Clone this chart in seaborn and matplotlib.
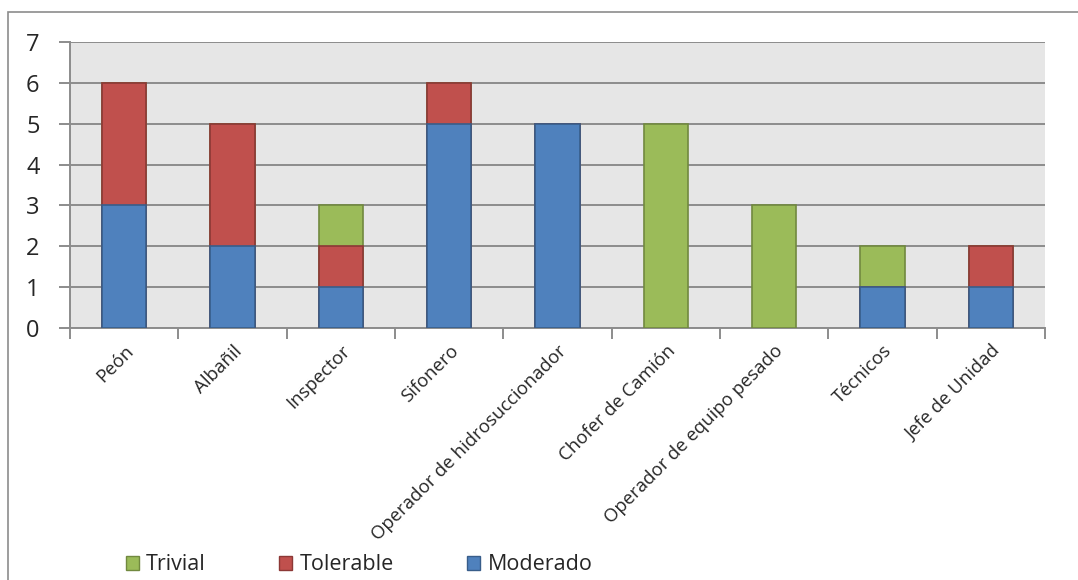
import numpy as np
import pandas as pd
import matplotlib
matplotlib.use("Agg")
import matplotlib.pyplot as plt
from matplotlib.patches import Patch, Rectangle
import seaborn as sns

# Puestos de trabajo y número de riesgos por nivel
puestos = ["Peón", "Albañil", "Inspector", "Sifonero",
           "Operador de hidrosuccionador", "Chofer de Camión",
           "Operador de equipo pesado", "Técnicos", "Jefe de Unidad"]
moderado = [3, 2, 1, 5, 5, 0, 0, 1, 1]
tolerable = [3, 3, 1, 1, 0, 0, 0, 0, 1]
trivial = [0, 0, 1, 0, 0, 5, 3, 1, 0]
y_ticks = [0, 1, 2, 3, 4, 5, 6, 7]

sns.set_theme(style="white")
plt.rcParams["font.family"] = ["Open Sans", "DejaVu Sans"]

df = pd.DataFrame({"puesto": puestos, "moderado": moderado,
                   "tolerable": tolerable, "trivial": trivial})
df["hasta_tolerable"] = df["moderado"] + df["tolerable"]
df["total"] = df["hasta_tolerable"] + df["trivial"]

colores = {"Trivial": ("#9BBB59", "#71893F"),
           "Tolerable": ("#C0504D", "#8C3836"),
           "Moderado": ("#4F81BD", "#385D8A")}

fig = plt.figure(figsize=(10.78, 5.8), dpi=100)
ax = fig.add_axes([0.065, 0.4345, 0.9045, 0.4931])
ax.set_facecolor("#E6E6E6")
ax.set_axisbelow(True)

# Barras apiladas: se dibuja cada acumulado encima del anterior
capas = [("total", "Trivial"), ("hasta_tolerable", "Tolerable"),
         ("moderado", "Moderado")]
for col, nombre in capas:
    datos = df[df[col] > 0]
    sns.barplot(data=datos, x="puesto", y=col, order=puestos, ax=ax,
                color=colores[nombre][0], edgecolor=colores[nombre][1],
                linewidth=1.2, width=0.41, saturation=1, errorbar=None,
                zorder=3)

ax.set_xlim(-0.5, len(puestos) - 0.5)
ax.set_ylim(0, 7)
ax.set_yticks(y_ticks)
ax.set_xlabel("")
ax.set_ylabel("")
ax.yaxis.grid(True, color="#8C8C8C", linewidth=1.4)
ax.xaxis.grid(False)

for lado in ["top", "right"]:
    ax.spines[lado].set_visible(False)
for lado in ["left", "bottom"]:
    ax.spines[lado].set_color("#8C8C8C")
    ax.spines[lado].set_linewidth(1.4)

ax.tick_params(axis="y", length=8, width=1.4, color="#8C8C8C",
               labelsize=17, pad=14, left=True)
ax.set_xticks(range(len(puestos)))
ax.set_xticks(np.arange(-0.5, len(puestos)), minor=True)
ax.tick_params(axis="x", which="major", length=0, pad=10)
ax.tick_params(axis="x", which="minor", length=8, width=1.4,
               color="#8C8C8C", bottom=True)
ax.set_xticklabels(puestos, rotation=45, ha="right",
                   rotation_mode="anchor", fontsize=13.3)

handles = [Patch(facecolor=colores[n][0], edgecolor=colores[n][1], label=n)
           for n in ["Trivial", "Tolerable", "Moderado"]]
fig.legend(handles=handles, loc="center", bbox_to_anchor=(0.333, 0.026),
           ncol=3, frameon=False, fontsize=15.5, handlelength=0.6,
           handleheight=0.6, handletextpad=0.35, columnspacing=3.4)

# Marco exterior del gráfico
fig.patches.append(Rectangle((8 / 1078, -0.1), 1.2, 1.1 - 12 / 580,
                             transform=fig.transFigure, fill=False,
                             edgecolor="#8C8C8C", linewidth=1.2))

fig.savefig("out.png", dpi=100)
